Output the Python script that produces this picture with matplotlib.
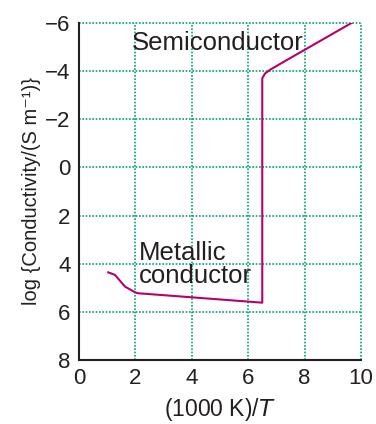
import matplotlib
matplotlib.use('Agg')
import matplotlib.pyplot as plt

plt.rcParams['font.family'] = ['Liberation Sans', 'DejaVu Sans']

# curve: (1000 K)/T vs log conductivity
x_vals = [1.04, 1.28, 1.63, 1.99, 2.10, 2.34, 6.50, 6.50, 6.60, 6.77, 7.45, 9.67]
y_vals = [4.36, 4.47, 4.95, 5.19, 5.23, 5.25, 5.62, -3.70, -3.90, -4.05, -4.51, -6.00]

x_ticks = [0, 2, 4, 6, 8, 10]
y_ticks = [-6, -4, -2, 0, 2, 4, 6, 8]

grid_col = '#00a07c'
line_col = '#b5006e'
txt_col = '#231f20'

fig = plt.figure(figsize=(3.76, 4.24), dpi=100)
ax = fig.add_axes([0.210, 0.151, 0.750, 0.795])

ax.plot(x_vals, y_vals, color=line_col, lw=1.5, zorder=3)

ax.set_xlim(0, 10)
ax.set_ylim(8, -6)
ax.set_xticks(x_ticks)
ax.set_yticks(y_ticks)
ax.tick_params(length=0, labelsize=16, colors=txt_col, pad=6)

# dotted grid, including the top and right borders
ax.grid(True, color=grid_col, linestyle=(0, (1, 1)), lw=1.2)
for gl in ax.get_xgridlines() + ax.get_ygridlines():
    gl.set_clip_on(False)

ax.spines['top'].set_visible(False)
ax.spines['right'].set_visible(False)
for s in ['left', 'bottom']:
    ax.spines[s].set_color(txt_col)
    ax.spines[s].set_linewidth(1.5)
    ax.spines[s].set_zorder(4)

ax.text(1.88, -5.17, 'Semiconductor', fontsize=18.5, color=txt_col,
        va='center', ha='left')
ax.text(2.14, 4.05, 'Metallic\nconductor', fontsize=18.5, color=txt_col,
        va='center', ha='left', linespacing=0.95)

ax.set_xlabel('(1000 K)/$\\mathit{T}$', fontsize=16.5, color=txt_col, labelpad=5)
ax.set_ylabel('log {Conductivity/(S m\u207b\u00b9)}', fontsize=14.5, color=txt_col, labelpad=3)

fig.savefig('out.png', dpi=100)
